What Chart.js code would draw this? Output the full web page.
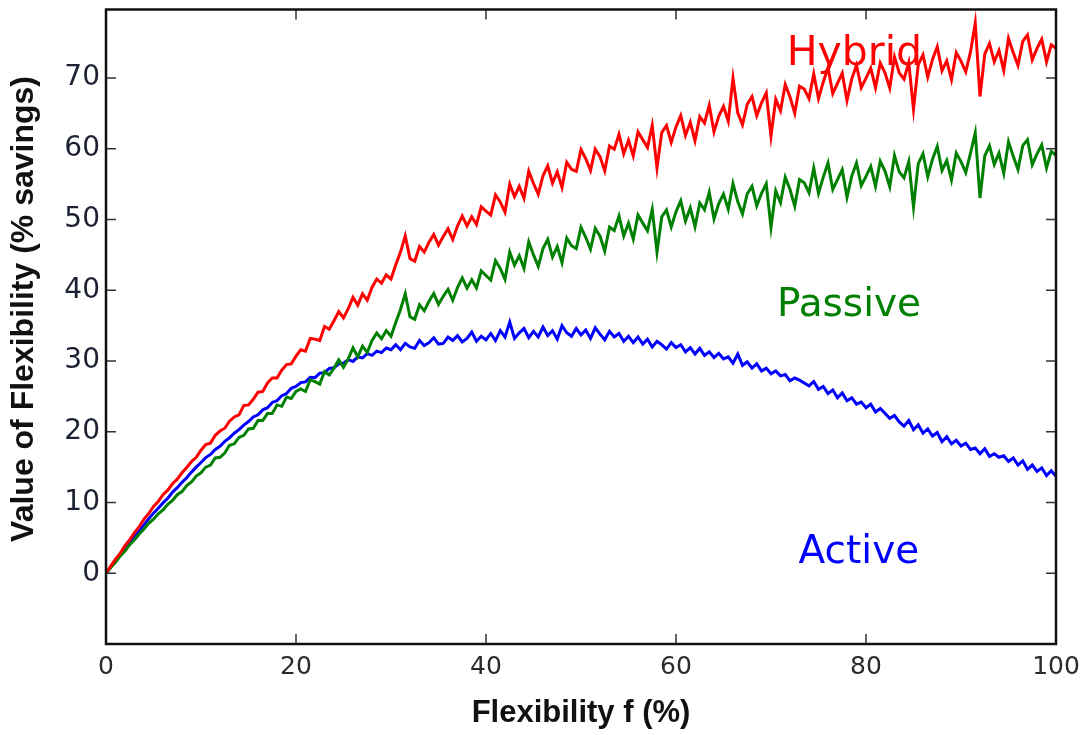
<!DOCTYPE html>
<html>
<head>
<meta charset="utf-8">
<script src="https://cdn.jsdelivr.net/npm/chart.js@4.4.1/dist/chart.umd.min.js"></script>
<style>
  html, body { margin: 0; padding: 0; background: #ffffff; }
  #wrap { width: 1084px; height: 735px; }
</style>
</head>
<body>
<div id="wrap"><canvas id="c" width="1084" height="735"></canvas></div>
<script>
// Sample grid of flexibility values, f = 0 ... 100 % in steps of 0.5
const flexibility = Array.from({ length: 201 }, (_, i) => i * 0.5);

// Value of flexibility (% savings) for each strategy
const hybrid = [0,
  1.0, 2.0, 2.85, 3.9, 4.75, 5.75, 6.6, 7.65, 8.45, 9.45,
  10.15, 11.1, 11.75, 12.65, 13.3, 14.2, 14.95, 15.8, 16.4, 17.4,
  18.2, 18.4, 19.5, 20.1, 20.5, 21.5, 22.1, 22.4, 23.7, 23.8,
  24.6, 25.6, 25.7, 26.9, 27.6, 27.6, 28.7, 29.5, 29.6, 30.7,
  31.6, 31.4, 33.2, 33.1, 32.9, 34.9, 34.5, 35.7, 37.0, 36.1,
  37.4, 39.0, 37.9, 39.5, 38.6, 40.4, 41.6, 41.0, 42.2, 41.6,
  43.6, 45.4, 47.7, 44.5, 44.1, 46.2, 45.4, 46.8, 47.9, 46.4,
  47.6, 48.7, 47.2, 49.1, 50.5, 49.1, 50.4, 49.3, 51.8, 51.2,
  50.65, 53.5, 52.5, 51.05, 55.0, 53.25, 54.7, 53.0, 56.85, 55.1,
  53.6, 56.2, 57.6, 55.15, 56.75, 54.55, 58.1, 57.1, 56.8, 59.9,
  58.6, 56.95, 59.95, 58.9, 56.9, 60.4, 59.95, 62.05, 59.3, 61.2,
  59.0, 62.4, 61.3, 60.2, 63.3, 57.3, 62.3, 63.3, 60.9, 63.1,
  64.7, 61.9, 63.75, 61.15, 64.55, 63.65, 66.15, 62.4, 64.6, 66.0,
  63.9, 70.0, 65.1, 63.4, 66.3, 67.4, 64.7, 66.5, 67.9, 61.8,
  67.0, 65.4, 69.1, 67.35, 65.05, 68.85, 68.45, 67.1, 70.6, 67.1,
  69.45, 71.5, 67.8, 69.25, 70.7, 66.85, 69.9, 71.8, 68.65, 70.0,
  71.4, 68.65, 72.15, 70.75, 68.6, 73.0, 70.75, 69.85, 72.2, 65.6,
  71.9, 73.3, 70.15, 72.65, 74.45, 71.05, 72.45, 69.8, 73.6, 72.4,
  70.9, 73.7, 77.8, 67.4, 73.4, 74.9, 72.3, 73.9, 71.1, 75.6,
  73.6, 71.8, 75.2, 76.1, 72.6, 74.2, 75.5, 72.3, 74.7, 74.2];

const passive = [0,
  0.8, 1.55, 2.45, 3.15, 4.05, 4.75, 5.55, 6.25, 7.05, 7.65,
  8.4, 8.95, 9.75, 10.3, 11.1, 11.55, 12.4, 12.9, 13.75, 14.2,
  15.0, 15.3, 16.3, 16.4, 17.0, 18.1, 18.3, 19.2, 19.5, 20.4,
  20.5, 21.6, 21.6, 22.6, 22.6, 23.8, 23.6, 24.9, 24.7, 25.7,
  26.05, 25.7, 27.35, 27.1, 26.75, 28.5, 28.05, 29.0, 30.15, 29.1,
  30.3, 31.85, 30.6, 32.1, 31.2, 32.9, 33.95, 33.15, 34.3, 33.5,
  35.45, 37.3, 39.5, 36.25, 35.9, 37.95, 37.1, 38.45, 39.55, 38.0,
  39.15, 40.15, 38.6, 40.4, 41.75, 40.3, 41.5, 40.35, 42.75, 42.1,
  41.45, 44.2, 43.1, 41.55, 45.4, 43.55, 44.9, 43.1, 46.85, 45.0,
  43.4, 45.9, 47.2, 44.7, 46.2, 43.9, 47.4, 46.3, 45.9, 48.9,
  47.5, 45.8, 48.75, 47.65, 45.55, 48.95, 48.45, 50.5, 47.7, 49.5,
  47.25, 50.65, 49.5, 48.4, 51.45, 45.4, 50.4, 51.35, 48.95, 51.1,
  52.65, 49.8, 51.65, 49.0, 52.35, 51.4, 53.85, 50.1, 52.25, 53.6,
  51.45, 55.1, 52.55, 50.8, 53.65, 54.7, 51.95, 53.7, 55.05, 48.9,
  54.05, 52.4, 56.0, 54.25, 51.9, 55.65, 55.2, 53.8, 57.25, 53.7,
  56.0, 58.0, 54.25, 55.65, 57.05, 53.15, 56.15, 58.0, 54.8, 56.1,
  57.5, 54.7, 58.25, 56.85, 54.65, 59.05, 56.75, 55.9, 58.2, 51.8,
  57.9, 59.3, 56.05, 58.55, 60.35, 56.95, 58.35, 55.6, 59.4, 58.2,
  56.65, 59.4, 62.25, 53.05, 59.0, 60.45, 57.8, 59.4, 56.55, 61.0,
  58.95, 57.1, 60.45, 61.3, 57.75, 59.3, 60.55, 57.3, 59.65, 59.1];

const active = [0,
  0.9, 1.75, 2.6, 3.45, 4.3, 5.15, 6.0, 6.85, 7.7, 8.5,
  9.2, 9.95, 10.6, 11.45, 12.1, 12.85, 13.5, 14.3, 15.0, 15.65,
  16.35, 16.8, 17.5, 17.95, 18.65, 19.15, 19.8, 20.3, 20.95, 21.45,
  22.1, 22.4, 23.1, 23.4, 24.15, 24.4, 25.1, 25.4, 26.15, 26.4,
  26.95, 27.05, 27.7, 27.65, 28.3, 28.35, 28.95, 29.05, 29.6, 29.7,
  30.2, 29.95, 30.6, 30.45, 31.05, 30.8, 31.4, 31.2, 31.85, 31.6,
  32.3, 31.6, 32.5, 32.0, 31.8, 32.9, 32.2, 32.6, 33.3, 32.4,
  32.5, 33.4, 32.9, 33.6, 32.7, 33.2, 34.1, 32.8, 33.5, 33.0,
  33.9, 32.9, 34.3, 33.4, 35.5, 33.2, 34.0, 34.6, 33.3, 34.2,
  33.4, 34.8, 33.6, 34.3, 33.1, 35.0, 34.0, 33.5, 34.6, 33.7,
  34.4, 33.2, 34.7, 33.8, 33.0, 34.2, 33.4, 33.9, 32.8, 33.5,
  32.6, 33.4, 32.4, 33.1, 32.0, 32.8, 32.3, 31.7, 32.6, 31.9,
  32.3, 31.3, 31.9, 31.0, 31.8, 30.8, 31.3, 30.5, 31.1, 30.3,
  30.6, 29.7, 31.0, 29.4, 29.9, 29.0, 29.6, 28.6, 29.0, 28.2,
  28.6, 27.9, 28.1, 27.2, 27.6, 27.3, 26.9, 26.5, 27.1, 26.0,
  26.4, 25.4, 25.9, 24.8, 25.5, 24.4, 24.8, 23.9, 24.2, 23.4,
  23.9, 22.8, 23.3, 22.6, 21.9, 22.3, 21.4, 20.8, 21.6, 20.3,
  21.0, 19.8, 20.4, 19.4, 19.9, 18.6, 19.3, 18.3, 18.8, 18.0,
  18.4, 17.5, 17.7, 16.9, 17.6, 16.5, 16.9, 16.4, 16.6, 15.8,
  16.3, 15.3, 15.9, 14.7, 15.3, 14.4, 14.9, 13.8, 14.5, 13.7];

// Tick positions
const xTickValues = [0, 20, 40, 60, 80, 100];
const yTickValues = [0, 10, 20, 30, 40, 50, 60, 70];

// Curve names written inside the plot, anchored in data units (right edge, baseline)
const curveNames = ['Hybrid', 'Passive', 'Active'];
const curveColors = ['#ff0000', '#008000', '#0000ff'];
const nameSizes = [41, 39, 39];
const nameAnchorX = [85.9, 85.8, 85.6];
const nameAnchorY = [71.9, 36.3, 1.5];

const toPoints = ys => ys.map((y, i) => ({ x: flexibility[i], y }));

// Inward tick marks on all four sides, the closed black frame and the curve names
const framePlugin = {
  id: 'frameAndTicks',
  afterDatasetsDraw(chart) {
    const { ctx, chartArea: a, scales } = chart;
    const xs = scales.x, ys = scales.y;
    ctx.save();
    ctx.strokeStyle = '#333333';
    ctx.lineWidth = 1.5;
    ctx.beginPath();
    xTickValues.forEach(v => {
      const px = xs.getPixelForValue(v);
      ctx.moveTo(px, a.bottom); ctx.lineTo(px, a.bottom - 10);
      ctx.moveTo(px, a.top); ctx.lineTo(px, a.top + 10);
    });
    yTickValues.forEach(v => {
      const py = ys.getPixelForValue(v);
      ctx.moveTo(a.left, py); ctx.lineTo(a.left + 10, py);
      ctx.moveTo(a.right, py); ctx.lineTo(a.right - 10, py);
    });
    ctx.stroke();
    ctx.strokeStyle = '#111111';
    ctx.lineWidth = 2.5;
    ctx.strokeRect(a.left, a.top, a.right - a.left, a.bottom - a.top);

    ctx.textAlign = 'right';
    ctx.textBaseline = 'alphabetic';
    curveNames.forEach((name, i) => {
      ctx.font = nameSizes[i] + 'px "DejaVu Sans"';
      ctx.fillStyle = curveColors[i];
      ctx.fillText(name, xs.getPixelForValue(nameAnchorX[i]), ys.getPixelForValue(nameAnchorY[i]));
    });
    ctx.restore();
  }
};

const lineStyle = color => ({
  borderColor: color,
  backgroundColor: color,
  borderWidth: 3,
  pointRadius: 0,
  tension: 0,
  fill: false
});

new Chart(document.getElementById('c').getContext('2d'), {
  type: 'line',
  data: {
    datasets: [
      Object.assign({ label: curveNames[0], data: toPoints(hybrid) }, lineStyle(curveColors[0])),
      Object.assign({ label: curveNames[1], data: toPoints(passive) }, lineStyle(curveColors[1])),
      Object.assign({ label: curveNames[2], data: toPoints(active) }, lineStyle(curveColors[2]))
    ]
  },
  options: {
    responsive: false,
    animation: false,
    devicePixelRatio: 1,
    layout: { padding: { top: 9.5, right: 28, left: 0, bottom: 0 } },
    plugins: { legend: { display: false }, tooltip: { enabled: false } },
    scales: {
      x: {
        type: 'linear',
        min: 0,
        max: 100,
        afterBuildTicks: s => { s.ticks = xTickValues.map(v => ({ value: v })); },
        afterFit: s => { s.height = 91; s.paddingLeft = 0; s.paddingRight = 0; },
        grid: { display: false, drawTicks: false },
        border: { display: false },
        ticks: {
          padding: 8.5,
          color: '#2b2b2b',
          maxRotation: 0,
          autoSkip: false,
          font: { family: 'DejaVu Sans', size: 25 }
        },
        title: {
          display: true,
          text: 'Flexibility f (%)',
          color: '#111111',
          font: { family: 'Liberation Sans', size: 31, weight: 'bold' },
          padding: { top: 0, bottom: 2.5 }
        }
      },
      y: {
        type: 'linear',
        min: -10,
        max: 79.7,
        afterBuildTicks: s => { s.ticks = yTickValues.map(v => ({ value: v })); },
        afterFit: s => { s.width = 106; s.paddingTop = 0; s.paddingBottom = 0; },
        grid: { display: false, drawTicks: false },
        border: { display: false },
        ticks: {
          padding: 6,
          color: '#1c2033',
          autoSkip: false,
          font: { family: 'DejaVu Sans', size: 28 }
        },
        title: {
          display: true,
          text: '    Value of Flexibility (% savings)',
          color: '#111111',
          font: { family: 'Liberation Sans', size: 32, weight: 'bold' },
          padding: { top: 5, bottom: 0 }
        }
      }
    }
  },
  plugins: [framePlugin]
});
</script>
</body>
</html>
